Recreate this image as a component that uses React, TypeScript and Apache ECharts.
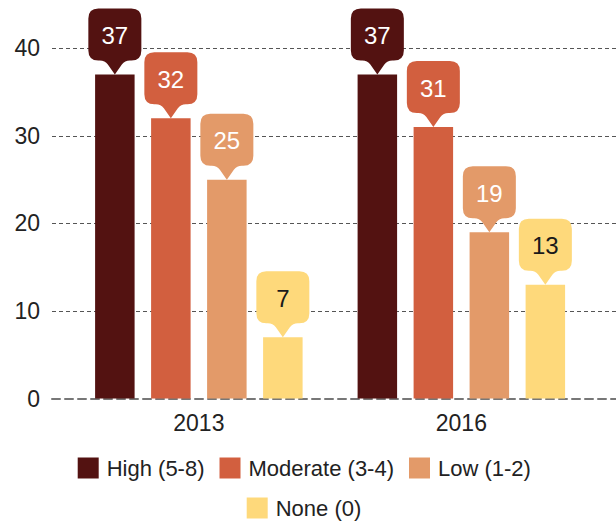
import React, { useEffect, useRef } from "react";
import * as echarts from "echarts";

const categories = ["2013", "2016"];
const levelNames = ["High (5-8)", "Moderate (3-4)", "Low (1-2)", "None (0)"];
const highValues = [37, 37];
const moderateValues = [32, 31];
const lowValues = [25, 19];
const noneValues = [7, 13];
const yTicks = [0, 10, 20, 30, 40];

const seriesValues = [highValues, moderateValues, lowValues, noneValues];
const colors = ["#531211", "#D25F3F", "#E39A69", "#FED97B"];
const textColors = ["#ffffff", "#ffffff", "#ffffff", "#1a1a1a"];

const FONT = "'Liberation Sans', Arial, sans-serif";
const BAR_W = 39.5;
const BAR_GAP = 16.5;

function bubblePath(cx: number, ty: number) {
  const W = 53, H = 52, r = 10, P = 14, b = 12;
  const bot = ty - P;
  const top = bot - H;
  const l = cx - W / 2, rt = cx + W / 2;
  return [
    `M${l + r},${top}`,
    `L${rt - r},${top}`,
    `Q${rt},${top} ${rt},${top + r}`,
    `L${rt},${bot - r}`,
    `Q${rt},${bot} ${rt - r},${bot}`,
    `L${cx + b + 3},${bot}`,
    `Q${cx + b - 2},${bot} ${cx + b - 5},${bot + 4}`,
    `L${cx},${ty}`,
    `L${cx - b + 5},${bot + 4}`,
    `Q${cx - b + 2},${bot} ${cx - b - 3},${bot}`,
    `L${l + r},${bot}`,
    `Q${l},${bot} ${l},${bot - r}`,
    `L${l},${top + r}`,
    `Q${l},${top} ${l + r},${top}`,
    "Z",
  ].join(" ");
}

export default function App() {
  const ref = useRef<HTMLDivElement>(null);
  useEffect(() => {
    if (!ref.current) return;
    const chart = echarts.init(ref.current, undefined, { renderer: "svg" });
    const n = levelNames.length;
    const total = n * BAR_W + (n - 1) * BAR_GAP;

    const barSeries = levelNames.map((name, i) => ({
      name,
      type: "bar",
      xAxisIndex: 1,
      yAxisIndex: 1,
      data: seriesValues[i],
      barWidth: BAR_W,
      barGap: `${(BAR_GAP / BAR_W) * 100}%`,
      itemStyle: { color: colors[i] },
      z: 2,
    }));

    const bubbleSeries = levelNames.map((name, i) => ({
      name: name + " label",
      type: "custom",
      xAxisIndex: 1,
      yAxisIndex: 1,
      clip: false,
      z: 5,
      encode: { x: 0, y: 1 },
      data: categories.map((_, j) => [j, seriesValues[i][j]]),
      renderItem: (params: any, api: any) => {
        const cat = api.value(0);
        const val = api.value(1);
        const pt = api.coord([cat, val]);
        const offset = -total / 2 + BAR_W / 2 + i * (BAR_W + BAR_GAP);
        const cx = pt[0] + offset;
        const ty = pt[1];
        const top = ty - 14 - 52;
        return {
          type: "group",
          children: [
            {
              type: "path",
              shape: { pathData: bubblePath(cx, ty) },
              style: { fill: colors[i] },
            },
            {
              type: "text",
              style: {
                text: String(val),
                x: cx,
                y: top + 27,
                align: "center",
                verticalAlign: "middle",
                fill: textColors[i],
                fontSize: 24,
                fontFamily: FONT,
              },
            },
          ],
        };
      },
    }));

    const legendCommon = {
      itemWidth: 21,
      itemHeight: 21,
      itemGap: 15,
      icon: "rect",
      textStyle: {
        color: "#222222",
        fontSize: 22,
        fontFamily: FONT,
        padding: [0, 0, 0, 3],
      },
    };

    chart.setOption({
      animation: false,
      backgroundColor: "#ffffff",
      grid: [
        { left: 52, right: 0, top: 48.3, bottom: 122.5 },
        { left: 67.6, right: 23.4, top: 48.3, bottom: 122.5 },
      ],
      xAxis: [
        {
          gridIndex: 0,
          type: "value",
          min: 0,
          max: 1,
          axisLine: {
            show: true,
            lineStyle: { color: "#777777", width: 2, type: [8, 5] },
          },
          axisTick: { show: false },
          axisLabel: { show: false },
          splitLine: { show: false },
        },
        {
          gridIndex: 1,
          type: "category",
          data: categories,
          axisLine: { show: false },
          axisTick: { show: false },
          axisLabel: {
            color: "#222222",
            fontSize: 23,
            fontFamily: FONT,
            margin: 13,
          },
        },
      ],
      yAxis: [
        {
          gridIndex: 0,
          type: "value",
          min: yTicks[0],
          max: yTicks[yTicks.length - 1],
          interval: yTicks[1] - yTicks[0],
          axisLine: { show: false },
          axisTick: { show: false },
          axisLabel: {
            color: "#222222",
            fontSize: 23,
            fontFamily: FONT,
            margin: 12,
          },
          splitLine: {
            show: true,
            showMinLine: false,
            lineStyle: { color: "#555555", width: 1, type: [4, 3] },
          },
        },
        {
          gridIndex: 1,
          type: "value",
          min: yTicks[0],
          max: yTicks[yTicks.length - 1],
          show: false,
          splitLine: { show: false },
        },
      ],
      legend: [
        {
          ...legendCommon,
          data: levelNames.slice(0, 3),
          left: 72.7,
          top: 452,
        },
        {
          ...legendCommon,
          data: levelNames.slice(3),
          left: 241.7,
          top: 492,
        },
      ],
      series: [...barSeries, ...bubbleSeries],
    });
    return () => chart.dispose();
  }, []);
  return (
    <div
      ref={ref}
      style={{ position: "fixed", left: 0, top: 0, width: 616, height: 521 }}
    />
  );
}
